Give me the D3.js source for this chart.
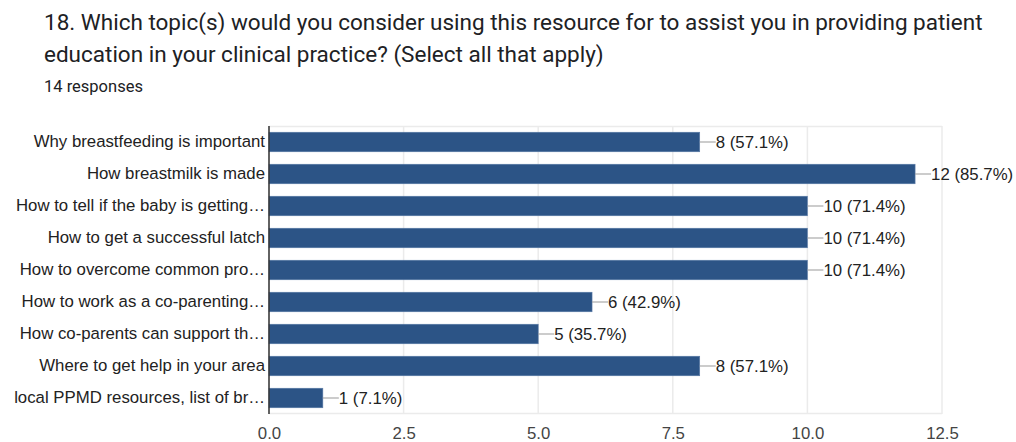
<!DOCTYPE html>
<html><head><meta charset="utf-8">
<script src="https://cdn.jsdelivr.net/npm/d3@7"></script>
<style>
body{margin:0;background:#fff;}
svg{display:block;}
</style></head><body>
<svg id="chart" width="1016" height="442"></svg>
<script>
const titleLines = ["18. Which topic(s) would you consider using this resource for to assist you in providing patient",
  "education in your clinical practice? (Select all that apply)"];
const subtitle = "14 responses";
const categories = ["Why breastfeeding is important","How breastmilk is made","How to tell if the baby is getting…",
  "How to get a successful latch","How to overcome common pro…","How to work as a co-parenting…",
  "How co-parents can support th…","Where to get help in your area","local PPMD resources, list of br…"];
const counts = [8,12,10,10,10,6,5,8,1];
const percents = ["57.1%","85.7%","71.4%","71.4%","71.4%","42.9%","35.7%","57.1%","7.1%"];
const xTicks = [0,2.5,5,7.5,10,12.5];

const svg = d3.select("#chart");
const FONT = "Arial, 'Liberation Sans'";
const FS = 16.8;

svg.append("g").selectAll("text").data(titleLines).join("text")
  .attr("x",44).attr("y",(d,i)=>30+i*32)
  .attr("font-family","Roboto").attr("font-size",22.5).attr("fill","#202124").text(d=>d);
svg.append("text").attr("x",44).attr("y",92).attr("font-family","Roboto").attr("font-size",16.5)
  .attr("fill","#202124").text(subtitle);

const x = d3.scaleLinear().domain([0,12.5]).range([269,942]);
const y = d3.scaleBand().domain(categories).range([126,414]).paddingInner(0.39).paddingOuter(0.195);

// grid
svg.append("g").selectAll("line").data(xTicks).join("line")
  .attr("x1",d=>x(d)).attr("x2",d=>x(d)).attr("y1",126).attr("y2",414)
  .attr("stroke","#ebebeb").attr("stroke-width",1.5);
svg.append("line").attr("x1",269).attr("x2",942).attr("y1",126.5).attr("y2",126.5).attr("stroke","#ebebeb").attr("stroke-width",1.5);
svg.append("line").attr("x1",269).attr("x2",942).attr("y1",413.5).attr("y2",413.5).attr("stroke","#ebebeb").attr("stroke-width",1.5);

const xAxis = d3.axisBottom(x).tickValues(xTicks).tickFormat(d3.format(".1f")).tickSize(0).tickPadding(0);
const gx = svg.append("g").attr("transform","translate(0,439)").call(xAxis);
gx.select(".domain").remove();
gx.selectAll("text").attr("font-family",FONT).attr("font-size",FS).attr("fill","#444").attr("dy",0);

// bars
svg.append("g").selectAll("rect").data(counts).join("rect")
  .attr("x",x(0)).attr("y",(d,i)=>y(categories[i]))
  .attr("width",d=>x(d)-x(0)).attr("height",y.bandwidth())
  .attr("fill","#2c5486").attr("stroke","#5a7aa6").attr("stroke-width",0.6);

// y labels
const yAxis = d3.axisLeft(y).tickSize(0).tickPadding(4);
const gy = svg.append("g").attr("transform","translate(269,0)").call(yAxis);
gy.select(".domain").remove();
gy.selectAll("text").attr("font-family",FONT).attr("font-size",FS).attr("fill","#222");
svg.append("line").attr("x1",269).attr("x2",269).attr("y1",126).attr("y2",414).attr("stroke","#333").attr("stroke-width",1.5);

// value labels
const lab = svg.append("g").selectAll("g").data(counts).join("g")
  .attr("transform",(d,i)=>`translate(${x(d)},${y(categories[i])+y.bandwidth()/2})`);
lab.append("line").attr("x1",0).attr("x2",16).attr("stroke","#999").attr("stroke-width",1);
lab.append("text").attr("x",16).attr("dy","0.35em").attr("font-family",FONT)
  .attr("font-size",FS).attr("fill","#222").text((d,i)=>`${d} (${percents[i]})`);
</script>
</body></html>
